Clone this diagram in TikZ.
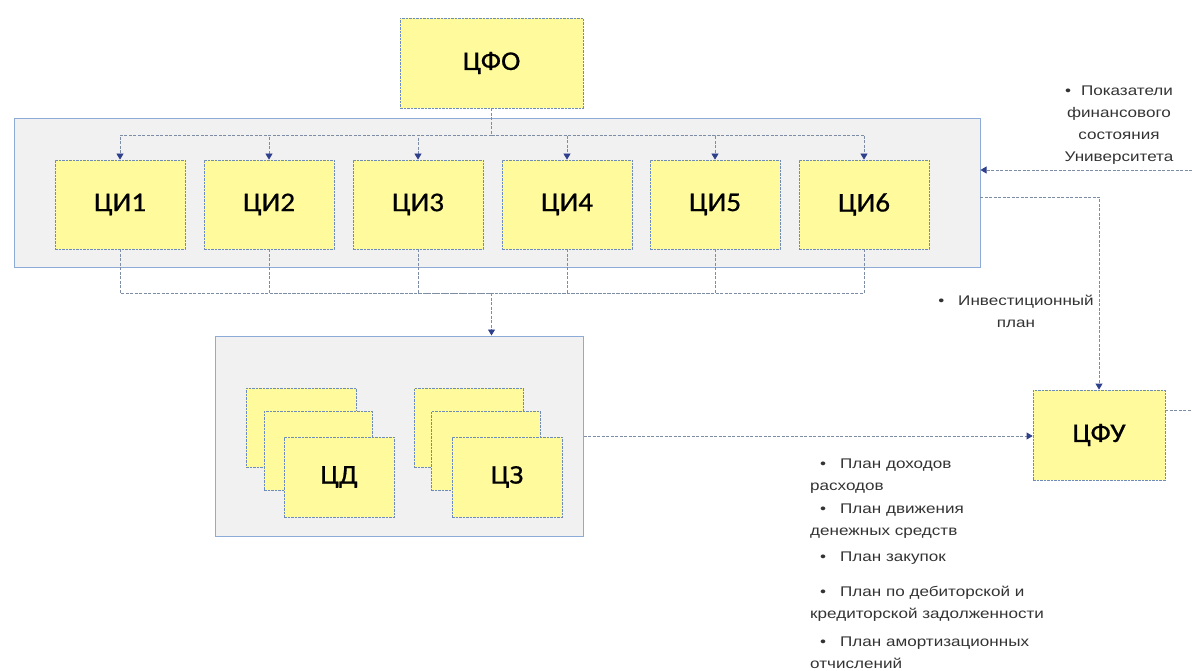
\documentclass[tikz,border=0pt]{standalone}
\usepackage{fontspec}
\setmainfont{Liberation Sans}
\newfontfamily\labfont[FakeStretch=1.22]{Liberation Sans}
\newfontfamily\boxfont[FakeStretch=1.08,FakeBold=0.6]{Carlito}
\usetikzlibrary{arrows.meta}
\definecolor{boxfill}{HTML}{FFFA9C}
\definecolor{boxedge}{HTML}{6F8CB8}
\definecolor{grpfill}{HTML}{F1F1F1}
\definecolor{grpedge}{HTML}{8EAAD6}
\definecolor{wire}{HTML}{7D8DA6}
\definecolor{tipcol}{HTML}{2E3F8C}
\tikzset{
  unit/.style={draw=boxedge, fill=boxfill, line width=0.8pt,
    dash pattern=on 2.5pt off 1pt, minimum width=130pt, minimum height=89pt,
    inner sep=0pt, font=\boxfont\fontsize{27}{30}\selectfont},
  group/.style={draw=grpedge, fill=grpfill, line width=1pt, inner sep=0pt},
  wireline/.style={draw=wire, line width=0.8pt, dash pattern=on 3pt off 1.5pt},
  flow/.style={wireline, -{Triangle[width=7pt,length=6pt,fill=tipcol,color=tipcol]}},
  note/.style={font=\labfont\fontsize{14}{22}\selectfont, text=black!80, inner sep=0pt}
}
\begin{document}
\begin{tikzpicture}[x=1pt,y=-1pt]
\useasboundingbox (0,0) rectangle (1192,671);

% containers
\node[group, minimum width=966pt, minimum height=149pt] (grp) at (497,193.5) {};
\node[group, minimum width=368pt, minimum height=200pt] (low) at (399,436) {};

% top-level centre
\node[unit, minimum width=183pt, minimum height=90pt] (cfo) at (491.5,63) {ЦФО};

% investment centres
\node[unit] (ci1) at (120,204.5) {ЦИ1};
\node[unit] (ci2) at (269,204.5) {ЦИ2};
\node[unit] (ci3) at (418,204.5) {ЦИ3};
\node[unit] (ci4) at (567,204.5) {ЦИ4};
\node[unit] (ci5) at (715,204.5) {ЦИ5};
\node[unit] (ci6) at (864,204.5) {ЦИ6};

% stacked income / cost centres
\node[unit, minimum width=110pt, minimum height=79pt] (cdA) at (301,427.5) {};
\node[unit, minimum width=108pt, minimum height=79pt] (cdB) at (318,450.5) {};
\node[unit, minimum width=110pt, minimum height=80pt] (cd) at (339,477) {ЦД};
\node[unit, minimum width=109pt, minimum height=79pt] (czA) at (468.5,427.5) {};
\node[unit, minimum width=109pt, minimum height=79pt] (czB) at (485.5,450.5) {};
\node[unit, minimum width=110pt, minimum height=80pt] (cz) at (507,477) {ЦЗ};

% financial management centre
\node[unit, minimum width=132pt, minimum height=90pt] (cfu) at (1099,435) {ЦФУ};

% distribution bus from ЦФО
\coordinate (bt) at (491.5,135);
\draw[wireline] (cfo.south) -- (bt);
\foreach \n in {ci1,ci2,ci3,ci4,ci5,ci6}
  \draw[flow] (bt) -| (\n.north);

% collection bus towards the lower group
\coordinate (bb) at (491.5,293);
\foreach \n in {ci1,ci2,ci3,ci4,ci5,ci6}
  \draw[wireline] (\n.south) |- (bb);
\draw[flow] (bb) -- (bb |- low.north);

% links to ЦФУ
\draw[flow] (low.east) -- (low.east -| cfu.west);
\coordinate (gx) at (980,197);
\draw[flow] (gx) -| (cfu.north);

% external input and output
\coordinate (in) at (1192,170);
\draw[flow] (in) -- (in -| grp.east);
\coordinate (out) at (1192,410);
\draw[wireline] (cfu.east |- out) -- (out);

% labels
\node[note, align=center] (lbin) at (1119,125) {•\hspace{10pt}Показатели\\финансового\\состояния\\Университета};
\node[note, align=center] (lbinv) at (1016,311) {•\hspace{14pt}Инвестиционный\\план};

\node[note, align=left, anchor=base west] (p1) at (810,490) {\hspace*{10pt}•\hspace{14pt}План доходов\\расходов};
\node[note, align=left, anchor=base west] (p2) at (810,535) {\hspace*{10pt}•\hspace{14pt}План движения\\денежных средств};
\node[note, align=left, anchor=base west] (p3) at (810,561) {\hspace*{10pt}•\hspace{14pt}План закупок};
\node[note, align=left, anchor=base west] (p4) at (810,618) {\hspace*{10pt}•\hspace{14pt}План по дебиторской и\\кредиторской задолженности};
\node[note, align=left, anchor=base west] (p5) at (810,668) {\hspace*{10pt}•\hspace{14pt}План амортизационных\\отчислений};
\end{tikzpicture}
\end{document}
